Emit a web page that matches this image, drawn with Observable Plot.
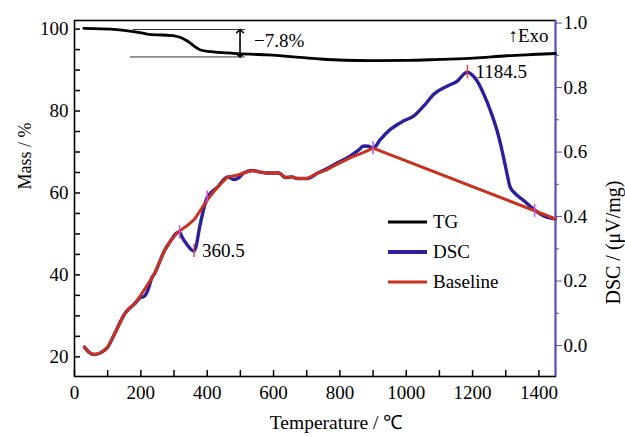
<!DOCTYPE html>
<html><head><meta charset="utf-8">
<script src="https://cdn.jsdelivr.net/npm/d3@7"></script>
<script src="https://cdn.jsdelivr.net/npm/@observablehq/plot@0.6"></script>
<style>
body{margin:0;background:#fff;}
#wrap{position:relative;width:625px;height:437px;font-family:"Liberation Serif",serif;}
#legend{position:absolute;left:388px;top:207px;font-size:19px;color:#000;}
#legend .item{display:flex;align-items:center;height:30px;}
#legend .sw{width:39px;margin-right:6px;}
</style>
</head><body>
<div id="wrap"><div id="legend"></div></div>
<script>
// ---- data ----
const tgT    = [28, 60, 108, 150, 179, 219, 250, 279, 305, 320, 340, 360, 380, 410, 480, 580, 681, 742, 812, 900, 1003, 1100, 1204, 1304, 1380, 1450];
const tgMass = [100.2, 100.1, 100.0, 99.7, 99.4, 98.8, 98.6, 98.5, 98.3, 97.95, 97.1, 95.9, 94.9, 94.5, 94.1, 93.7, 93.1, 92.7, 92.4, 92.3, 92.35, 92.6, 92.9, 93.5, 93.8, 94.05];

const dscT = [30, 45, 60, 80, 100, 125, 151, 165, 181, 190, 200, 208, 216, 224, 233, 241, 256, 271, 290, 311, 317, 325, 340, 352, 360.5, 367, 377, 387, 400, 430, 462, 480, 495, 510, 536, 560, 581, 616, 636, 656, 671, 701, 732, 760, 790, 832, 855, 872, 885, 900, 923, 953, 993, 1023, 1053, 1083, 1124, 1154, 1179, 1186, 1194, 1214, 1234, 1254, 1274, 1289, 1302, 1313, 1325, 1355, 1387, 1415, 1450];
const dscV = [-0.005, -0.022, -0.028, -0.022, -0.005, 0.045, 0.098, 0.115, 0.129, 0.140, 0.150, 0.151, 0.160, 0.180, 0.210, 0.222, 0.258, 0.294, 0.325, 0.351, 0.351, 0.335, 0.312, 0.297, 0.293, 0.310, 0.366, 0.413, 0.459, 0.490, 0.523, 0.515, 0.520, 0.535, 0.543, 0.538, 0.535, 0.535, 0.521, 0.523, 0.518, 0.518, 0.534, 0.548, 0.565, 0.588, 0.605, 0.619, 0.618, 0.612, 0.640, 0.671, 0.697, 0.712, 0.743, 0.779, 0.805, 0.820, 0.846, 0.848, 0.843, 0.820, 0.779, 0.728, 0.666, 0.604, 0.542, 0.492, 0.475, 0.449, 0.420, 0.402, 0.393];

const baseT = [30, 45, 60, 80, 100, 125, 151, 165, 181, 201, 221, 241, 256, 271, 290, 311, 340, 362, 380, 402, 430, 462, 490, 510, 536, 560, 581, 616, 636, 656, 671, 701, 732, 760, 782, 832, 870, 900, 1387, 1450];
const baseV = [-0.005, -0.022, -0.028, -0.022, -0.005, 0.045, 0.098, 0.115, 0.129, 0.158, 0.190, 0.222, 0.258, 0.294, 0.325, 0.351, 0.372, 0.392, 0.420, 0.454, 0.490, 0.523, 0.528, 0.535, 0.543, 0.538, 0.535, 0.535, 0.521, 0.523, 0.518, 0.518, 0.534, 0.545, 0.557, 0.583, 0.598, 0.612, 0.418, 0.393];

const peakT = [360.5, 1184.5];
const peakV = [0.293, 0.848];
const peakLabels = ["360.5", "1184.5"];
const onsetT = [317, 400, 900, 1387];
const onsetV = [0.351, 0.459, 0.612, 0.418];

const lossLevels = [99.9, 93.2];
const lossFrom = [178, 169];
const lossTo = [515, 515];
const lossAt = 499;
const lossLabel = "\u22127.8%";

const xTicks = [0, 200, 400, 600, 800, 1000, 1200, 1400];
const xMinor = [100, 300, 500, 700, 900, 1100, 1300];
const massTicks = [20, 40, 60, 80, 100];
const massMinor = [25, 30, 35, 45, 50, 55, 65, 70, 75, 85, 90, 95];
const dscTicks = [0.0, 0.2, 0.4, 0.6, 0.8, 1.0];
const dscMinor = [0.1, 0.3, 0.5, 0.7, 0.9];

const legendNames = ["TG", "DSC", "Baseline"];
const xLabel = "Temperature / \u2103";
const yLabel = "Mass / %";
const y2Label = "DSC / (\u03bcV/mg)";
const exoLabel = "\u2191Exo";

// ---- styling / scales ----
const cTG = "#000000", cDSC = "#2b1f9e", cBase = "#c8321e", cAxis2 = "#5a4fd4", cOnset = "#c050e8", cPeak = "#e4463a";
const W = 625, H = 437, mL = 74, mR = 70, mT = 20, mB = 61;
const xDomain = [0, 1450];
const massDomain = [15.2, 102.1];
const dscDomain = [-0.096, 1.008];
const k = (massDomain[1] - massDomain[0]) / (dscDomain[1] - dscDomain[0]);
const toMass = v => massDomain[0] + (v - dscDomain[0]) * k;
const toDsc = m => dscDomain[0] + (m - massDomain[0]) / k;
const f1 = d3.format(".1f");
const fInt = d3.format("d");

// inward tick length (px) expressed in each scale's units
const tickPx = 6;
const tickX = tickPx * (xDomain[1] - xDomain[0]) / (W - mL - mR);
const tickY = tickPx * (massDomain[1] - massDomain[0]) / (H - mT - mB);

const tg = tgT.map((t, i) => ({t, m: tgMass[i]}));
const dsc = dscT.map((t, i) => ({t, m: toMass(dscV[i])}));
const base = baseT.map((t, i) => ({t, m: toMass(baseV[i])}));
const peaks = peakT.map((t, i) => ({t, m: toMass(peakV[i]), label: peakLabels[i]}));
const onsets = onsetT.map((t, i) => ({t, m: toMass(onsetV[i])}));
const loss = lossLevels.map((m, i) => ({m, x1: lossFrom[i], x2: lossTo[i]}));
const lossMid = (lossLevels[0] + lossLevels[1]) / 2;
const half = 1.6;

const chart = Plot.plot({
  width: W, height: H,
  marginLeft: mL, marginRight: mR, marginTop: mT, marginBottom: mB,
  style: {fontFamily: "Liberation Serif", fontSize: "19px", color: "#000", background: "#fff", overflow: "visible"},
  x: {domain: xDomain},
  y: {domain: massDomain},
  marks: [
    // tick labels
    Plot.axisX({ticks: xTicks, tickSize: 0, tickPadding: 9, tickFormat: fInt, label: null}),
    Plot.axisY({ticks: massTicks, tickSize: 0, tickPadding: 6, label: null}),
    // inward ticks on left and bottom
    Plot.ruleX(xTicks.concat(xMinor), {x: d => d, y1: massDomain[0], y2: massDomain[0] + tickY, stroke: "#000", strokeWidth: 1.5}),
    Plot.ruleY(massTicks.concat(massMinor), {y: d => d, x1: xDomain[0], x2: xDomain[0] + tickX, stroke: "#000", strokeWidth: 1.5}),
    // right DSC axis
    Plot.axisY({anchor: "right", ticks: dscTicks.map(toMass), tickSize: 6, stroke: cAxis2, tickFormat: () => "", label: null}),
    Plot.axisY({anchor: "right", ticks: dscMinor.map(toMass), tickSize: 3, stroke: cAxis2, tickFormat: () => "", label: null}),
    Plot.axisY({anchor: "right", ticks: dscTicks.map(toMass), tickSize: 0, tickPadding: 8, tickFormat: m => f1(toDsc(m)), label: null}),
    Plot.frame({stroke: "#000", strokeWidth: 1.6}),
    Plot.ruleX([xDomain[1]], {stroke: cAxis2, strokeWidth: 1.6}),
    // axis titles
    Plot.text([xLabel], {frameAnchor: "bottom", dx: 21, dy: 52, fontSize: 19.5}),
    Plot.text([yLabel], {frameAnchor: "left", dx: -49, dy: -9, rotate: -90, fontSize: 18}),
    Plot.text([y2Label], {frameAnchor: "right", dx: 58, dy: -18, rotate: -90, fontSize: 20}),
    // mass-loss annotation
    Plot.ruleY(loss, {y: "m", x1: "x1", x2: "x2", stroke: "#333", strokeWidth: 1}),
    Plot.arrow([0, 1], {x1: lossAt, x2: lossAt, y1: lossMid, y2: i => lossLevels[i], stroke: "#000", strokeWidth: 1.6, headLength: 7, headAngle: 95}),
    Plot.text([lossLabel], {x: lossAt, y: lossMid, dx: 14, dy: -2, textAnchor: "start", fontSize: 19}),
    Plot.text([exoLabel], {frameAnchor: "top-right", dx: -7, dy: 15, textAnchor: "end", lineAnchor: "middle", fontSize: 19}),
    // curves
    Plot.line(tg, {x: "t", y: "m", stroke: cTG, strokeWidth: 2.8, curve: "monotone-x"}),
    Plot.line(dsc, {x: "t", y: "m", stroke: cDSC, strokeWidth: 3.4, curve: "monotone-x"}),
    Plot.line(base, {x: "t", y: "m", stroke: cBase, strokeWidth: 3, curve: "linear"}),
    // markers
    Plot.ruleX(onsets, {x: "t", y1: d => d.m - half, y2: d => d.m + half, stroke: cOnset, strokeWidth: 1.5}),
    Plot.ruleX(peaks, {x: "t", y1: d => d.m - half, y2: d => d.m + half, stroke: cPeak, strokeWidth: 1.5}),
    Plot.text(peaks, {x: "t", y: "m", text: "label", dx: 8, textAnchor: "start", fontSize: 19})
  ]
});
const wrap = document.getElementById("wrap");
wrap.insertBefore(chart, wrap.firstChild);

// legend
const colors = [cTG, cDSC, cBase];
const widths = [3, 4, 3];
const legend = d3.select("#legend");
legendNames.forEach((name, i) => {
  const it = legend.append("div").attr("class", "item");
  it.append("svg").attr("class", "sw").attr("width", 39).attr("height", 10)
    .append("line").attr("x1", 0).attr("x2", 39).attr("y1", 5).attr("y2", 5)
    .attr("stroke", colors[i]).attr("stroke-width", widths[i]);
  it.append("span").text(name);
});
</script>
</body></html>
